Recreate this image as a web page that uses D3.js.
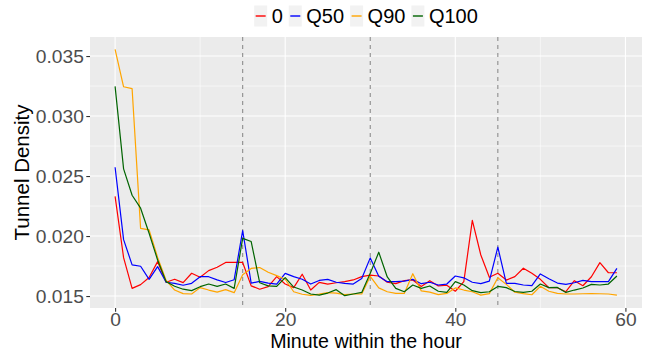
<!DOCTYPE html>
<html>
<head>
<meta charset="utf-8">
<script src="https://cdn.jsdelivr.net/npm/d3@7"></script>
<style>
  body { margin: 0; background: #ffffff; }
  text { font-family: "Liberation Sans", Arial, Helvetica, sans-serif; }
</style>
</head>
<body>
<svg id="chart" width="651" height="352"></svg>
<script>
// Minute of the hour (x) and tunnel density per series (y)
const minutes = d3.range(0, 60);
const seriesNames = ["0", "Q50", "Q90", "Q100"];
const seriesColors = ["#FF0000", "#0000FF", "#FFA500", "#006400"];

const density0 = [0.0233, 0.0182, 0.01564, 0.01595, 0.01655, 0.01787, 0.01615, 0.0164, 0.01612, 0.0169,
  0.01656, 0.01712, 0.0174, 0.0178, 0.0178, 0.0178, 0.01585, 0.01557, 0.01578, 0.01662,
  0.016, 0.0157, 0.01682, 0.0155, 0.01614, 0.016, 0.01611, 0.0162, 0.01634, 0.01662,
  0.01675, 0.01667, 0.01615, 0.01603, 0.01628, 0.01634, 0.0158, 0.01628, 0.01584, 0.0159,
  0.0154, 0.0162, 0.0213, 0.01842, 0.01656, 0.0169, 0.01633, 0.01662, 0.01732, 0.01689,
  0.01639, 0.01569, 0.01569, 0.01536, 0.01628, 0.01586, 0.01661, 0.01778, 0.01694, 0.01694];

const densityQ50 = [0.02573, 0.0197, 0.0176, 0.01748, 0.01639, 0.01745, 0.01615, 0.01606, 0.0159, 0.01606,
  0.01661, 0.01661, 0.01635, 0.01613, 0.01636, 0.02045, 0.01608, 0.01622, 0.01608, 0.016,
  0.01689, 0.01662, 0.0164, 0.016, 0.0163, 0.01639, 0.01615, 0.01605, 0.016, 0.01647,
  0.01818, 0.01665, 0.0162, 0.0162, 0.01624, 0.01639, 0.01603, 0.01615, 0.01592, 0.016,
  0.01667, 0.01652, 0.01615, 0.01604, 0.01624, 0.01907, 0.01606, 0.01606, 0.01592, 0.01586,
  0.01684, 0.01644, 0.01608, 0.01597, 0.01611, 0.01631, 0.0162, 0.0162, 0.0162, 0.01731];

const densityQ90 = [0.03556, 0.03244, 0.03228, 0.02064, 0.02051, 0.01822, 0.0163, 0.0155, 0.0152, 0.01517,
  0.0157, 0.0155, 0.01533, 0.01553, 0.01528, 0.01677, 0.0173, 0.01738, 0.01698, 0.0167,
  0.0164, 0.01536, 0.01515, 0.01505, 0.01516, 0.01529, 0.01525, 0.01512, 0.01517, 0.01517,
  0.01664, 0.01568, 0.01536, 0.01522, 0.01522, 0.01686, 0.01543, 0.01532, 0.01512, 0.01522,
  0.01568, 0.0155, 0.01536, 0.01508, 0.0152, 0.01653, 0.01597, 0.01532, 0.0152, 0.01511,
  0.01581, 0.0154, 0.01522, 0.01517, 0.01517, 0.01519, 0.0152, 0.01519, 0.01517, 0.01508];

const densityQ100 = [0.03247, 0.0256, 0.0234, 0.02232, 0.02023, 0.018, 0.0162, 0.01582, 0.01557, 0.01545,
  0.01578, 0.016, 0.0158, 0.016, 0.01564, 0.01981, 0.01954, 0.01611, 0.01585, 0.0158,
  0.01654, 0.01575, 0.0155, 0.01517, 0.01508, 0.01525, 0.01553, 0.01503, 0.01517, 0.0153,
  0.01689, 0.01865, 0.01659, 0.01564, 0.01536, 0.01592, 0.01564, 0.01584, 0.0154, 0.0153,
  0.0162, 0.01592, 0.01545, 0.01528, 0.01536, 0.0158, 0.0157, 0.01538, 0.0153, 0.0154,
  0.016, 0.0157, 0.01572, 0.0153, 0.0155, 0.01567, 0.01597, 0.01592, 0.016, 0.01667];

const quarterMarks = [15, 30, 45];
const xTicks = [0, 20, 40, 60];
const xMinorTicks = [10, 30, 50];
const yTicks = [0.015, 0.020, 0.025, 0.030, 0.035];
const yMinorTicks = [0.0175, 0.0225, 0.0275, 0.0325];
const yTickLabels = ["0.015", "0.020", "0.025", "0.030", "0.035"];

const xTitle = "Minute within the hour";
const yTitle = "Tunnel Density";

// ---- layout ----
const W = 651, H = 352;
const margin = { top: 37, right: 9, bottom: 44, left: 90 };
const pw = W - margin.left - margin.right;
const ph = H - margin.top - margin.bottom;

const svg = d3.select("#chart");
const series = seriesNames.map((name, i) => ({
  name,
  color: seriesColors[i],
  values: [density0, densityQ50, densityQ90, densityQ100][i]
}));

// continuous scales with a 5% expansion on each side
function expand(ext, f) {
  const d = (ext[1] - ext[0]) * f;
  return [ext[0] - d, ext[1] + d];
}
const x = d3.scaleLinear()
  .domain(expand(d3.extent(minutes), 0.05))
  .range([0, pw]);
const allValues = series.flatMap(s => s.values);
const y = d3.scaleLinear()
  .domain(expand(d3.extent(allValues), 0.05))
  .range([ph, 0]);

const g = svg.append("g").attr("transform", `translate(${margin.left},${margin.top})`);

// panel background
g.append("rect").attr("width", pw).attr("height", ph).attr("fill", "#EBEBEB");

// grid: minor then major
g.append("g").selectAll("line").data(yMinorTicks).join("line")
  .attr("x1", 0).attr("x2", pw)
  .attr("y1", d => y(d)).attr("y2", d => y(d))
  .attr("stroke", "#ffffff").attr("stroke-width", 0.55);
g.append("g").selectAll("line").data(xMinorTicks).join("line")
  .attr("y1", 0).attr("y2", ph)
  .attr("x1", d => x(d)).attr("x2", d => x(d))
  .attr("stroke", "#ffffff").attr("stroke-width", 0.55);
g.append("g").selectAll("line").data(yTicks).join("line")
  .attr("x1", 0).attr("x2", pw)
  .attr("y1", d => y(d)).attr("y2", d => y(d))
  .attr("stroke", "#ffffff").attr("stroke-width", 1.1);
g.append("g").selectAll("line").data(xTicks).join("line")
  .attr("y1", 0).attr("y2", ph)
  .attr("x1", d => x(d)).attr("x2", d => x(d))
  .attr("stroke", "#ffffff").attr("stroke-width", 1.1);

// quarter-hour markers
g.append("g").selectAll("line").data(quarterMarks).join("line")
  .attr("y1", 0).attr("y2", ph)
  .attr("x1", d => x(d)).attr("x2", d => x(d))
  .attr("stroke", "#8C8C8C").attr("stroke-width", 1.1)
  .attr("stroke-dasharray", "4,4");

// series lines
const line = d3.line()
  .x((d, i) => x(minutes[i]))
  .y(d => y(d));
g.append("g").selectAll("path").data(series).join("path")
  .attr("d", s => line(s.values))
  .attr("fill", "none")
  .attr("stroke", s => s.color)
  .attr("stroke-width", 1.2)
  .attr("stroke-linejoin", "round");

// axes
const xAxis = g.append("g").attr("transform", `translate(0,${ph})`)
  .call(d3.axisBottom(x).tickValues(xTicks).tickSize(3.7).tickPadding(0.8).tickFormat(d3.format("d")));
const yAxis = g.append("g")
  .call(d3.axisLeft(y).tickValues(yTicks).tickSize(3.7).tickPadding(2.5)
    .tickFormat((d, i) => yTickLabels[i]));
[xAxis, yAxis].forEach(a => {
  a.select(".domain").remove();
  a.selectAll(".tick line").attr("stroke", "#333333").attr("stroke-width", 1.1);
  a.selectAll(".tick text").attr("fill", "#4D4D4D")
    .style("font-size", "19.2px")
    .style("font-family", "'Liberation Sans', Arial, Helvetica, sans-serif");
});

// axis titles
svg.append("text")
  .attr("x", margin.left + pw / 2).attr("y", 347.6)
  .attr("text-anchor", "middle")
  .style("font-size", "19.6px").attr("fill", "#000")
  .text(xTitle);
svg.append("text")
  .attr("transform", `translate(29,${margin.top + ph / 2}) rotate(-90)`)
  .attr("text-anchor", "middle")
  .style("font-size", "20.5px").attr("fill", "#000")
  .text(yTitle);

// legend on top, centred over the panel
const legendFont = 20;
const keyW = 13, keyH = 21, keyGap = 4.5, itemGap = 6;
const legend = svg.append("g");
let cx = 0;
series.forEach(s => {
  const it = legend.append("g").attr("transform", `translate(${cx},0)`);
  it.append("rect").attr("x", 0).attr("y", -keyH / 2).attr("width", keyW).attr("height", keyH)
    .attr("fill", "#F2F2F2");
  it.append("line").attr("x1", 1.5).attr("x2", keyW - 1.5).attr("y1", 0).attr("y2", 0)
    .attr("stroke", s.color).attr("stroke-width", 1.4);
  const t = it.append("text").attr("x", keyW + keyGap).attr("y", 0).attr("dy", "0.36em")
    .style("font-size", legendFont + "px").attr("fill", "#000").text(s.name);
  const tw = t.node().getComputedTextLength();
  cx += keyW + keyGap + tw + itemGap;
});
const legendW = cx - itemGap;
legend.attr("transform", `translate(${margin.left + pw / 2 - legendW / 2},16)`);
</script>
</body>
</html>
